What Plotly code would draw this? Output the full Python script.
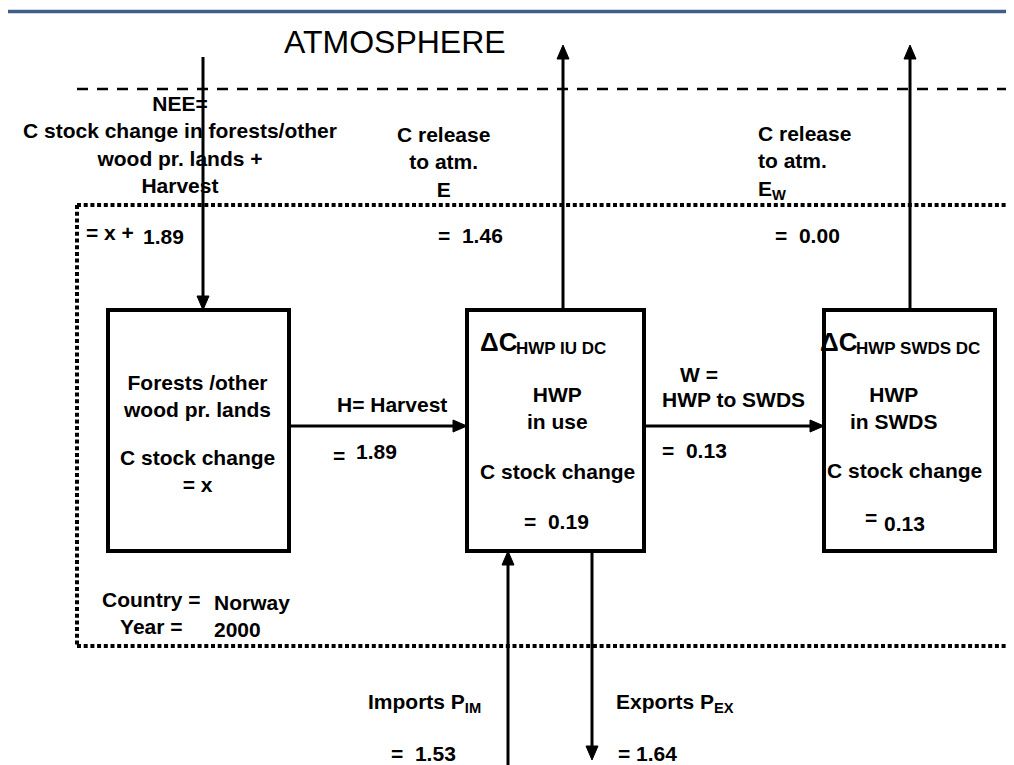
import plotly.graph_objects as go

# ---------------- data ----------------
flow_names = ["NEE_harvest", "E", "E_W", "H", "W", "dC_IU", "dC_SWDS", "P_IM", "P_EX"]
flow_values = [1.89, 1.46, 0.00, 1.89, 0.13, 0.19, 0.13, 1.53, 1.64]
country_label = ["Norway"]
year_label = [2000]

v = dict(zip(flow_names, flow_values))

FONT = "Liberation Sans, Arial, Helvetica, sans-serif"
W, H = 1014, 765
OFF = 8  # the page body margin; axis ranges compensate so coordinates equal page pixels

shapes = []
annotations = []


def line(x0, y0, x1, y1, width=3, dash="solid", color="black"):
    shapes.append(dict(type="line", xref="x", yref="y", x0=x0, y0=y0, x1=x1, y1=y1,
                       line=dict(color=color, width=width, dash=dash)))


def rect(x0, y0, x1, y1, width=4):
    shapes.append(dict(type="rect", xref="x", yref="y", x0=x0, y0=y0, x1=x1, y1=y1,
                       line=dict(color="black", width=width), fillcolor="rgba(0,0,0,0)"))


def head(tx, ty, direction, length=14, half=6):
    if direction == "down":
        p = f"M {tx-half},{ty-length} L {tx+half},{ty-length} L {tx},{ty} Z"
    elif direction == "up":
        p = f"M {tx-half},{ty+length} L {tx+half},{ty+length} L {tx},{ty} Z"
    else:  # right
        p = f"M {tx-length},{ty-half} L {tx-length},{ty+half} L {tx},{ty} Z"
    shapes.append(dict(type="path", xref="x", yref="y", path=p,
                       fillcolor="black", line=dict(color="black", width=1)))


def txt(x, y, text, size=21, bold=True, xanchor="center", align="center", yanchor="middle"):
    annotations.append(dict(x=x, y=y, xref="x", yref="y",
                            text=f"<b>{text}</b>" if bold else text,
                            showarrow=False, xanchor=xanchor, yanchor=yanchor, align=align,
                            font=dict(family=FONT, size=size, color="black")))


def fmt(val):
    return f"{val:.2f}"

# ---------------- frame lines ----------------
line(3, 11.5, 1011, 11.5, width=3.5, color="#3F5F8A")
line(77, 89, W + 10, 89, width=2.5, dash="11px,9px")
dot = "4px,2.7px"
line(77, 205, W + 10, 205, width=4, dash=dot)
line(77, 205, 77, 646, width=4, dash=dot)
line(77, 646, W + 10, 646, width=4, dash=dot)

# ---------------- boxes ----------------
rect(108, 310, 289, 551)
rect(467, 310, 644, 551)
rect(824, 310, 995, 551)

# ---------------- arrows ----------------
line(203, 57, 203, 297)
head(203, 310, "down")
line(563, 310, 563, 58)
head(563, 45, "up")
line(910, 310, 910, 58)
head(910, 45, "up")
line(289, 426, 455, 426)
head(467, 426, "right")
line(644, 426, 812, 426)
head(824, 426, "right")
line(508, H + 10, 508, 564)
head(508, 551, "up")
line(592, 551, 592, 747)
head(592, 760, "down")

# ---------------- texts ----------------
txt(395, 42, "ATMOSPHERE", size=32, bold=False)

txt(180, 144, "NEE=<br>C stock change in forests/other<br>wood pr. lands +<br>Harvest")
txt(443, 162, "C release<br>to atm.<br>E")
txt(756, 162, "C release<br>to atm.<br>E<sub>W</sub>", xanchor="left", align="left")
txt(470, 235, f"=  {fmt(v['E'])}")
txt(807, 235, f"=  {fmt(v['E_W'])}")
txt(84, 232, "= x +", xanchor="left")
txt(141, 236, fmt(v['NEE_harvest']), xanchor="left")

txt(197, 396, "Forests /other<br>wood pr. lands")
txt(197, 471, "C stock change<br>= x")
txt(392, 404, "H= Harvest")
txt(339, 455, "=")
txt(354, 451, fmt(v['H']), xanchor="left")

txt(478, 342, "ΔC", size=26, xanchor="left")
txt(514, 348, "HWP IU DC", size=17, xanchor="left")
txt(557, 408, "HWP<br>in use")
txt(557, 471, "C stock change")
txt(556, 521, f"=  {fmt(v['dC_IU'])}")

txt(699, 374, "W =")
txt(733, 399, "HWP to SWDS")
txt(694, 450, f"=  {fmt(v['W'])}")

txt(818, 342, "ΔC", size=26, xanchor="left")
txt(854, 348, "HWP SWDS DC", size=17, xanchor="left")
txt(894, 408, "HWP<br>in SWDS")
txt(904, 470, "C stock change")
txt(871, 517, "=")
txt(882, 523, fmt(v['dC_SWDS']), xanchor="left")

txt(151, 613, "Country =<br>Year =")
txt(212, 616, f"{country_label[0]}<br>{year_label[0]}", xanchor="left", align="left")

txt(424, 703, "Imports P<sub>IM</sub>")
txt(423, 753, f"=  {fmt(v['P_IM'])}")
txt(675, 703, "Exports P<sub>EX</sub>")
txt(616, 753, f"= {fmt(v['P_EX'])}", xanchor="left")

fig = go.Figure()
fig.update_layout(
    width=W, height=H,
    margin=dict(l=0, r=0, t=0, b=0),
    paper_bgcolor="white", plot_bgcolor="white",
    xaxis=dict(range=[OFF, W + OFF], visible=False, fixedrange=True),
    yaxis=dict(range=[H + OFF, OFF], visible=False, fixedrange=True),
    shapes=shapes, annotations=annotations,
    showlegend=False,
)
fig.write_html("out.html")
